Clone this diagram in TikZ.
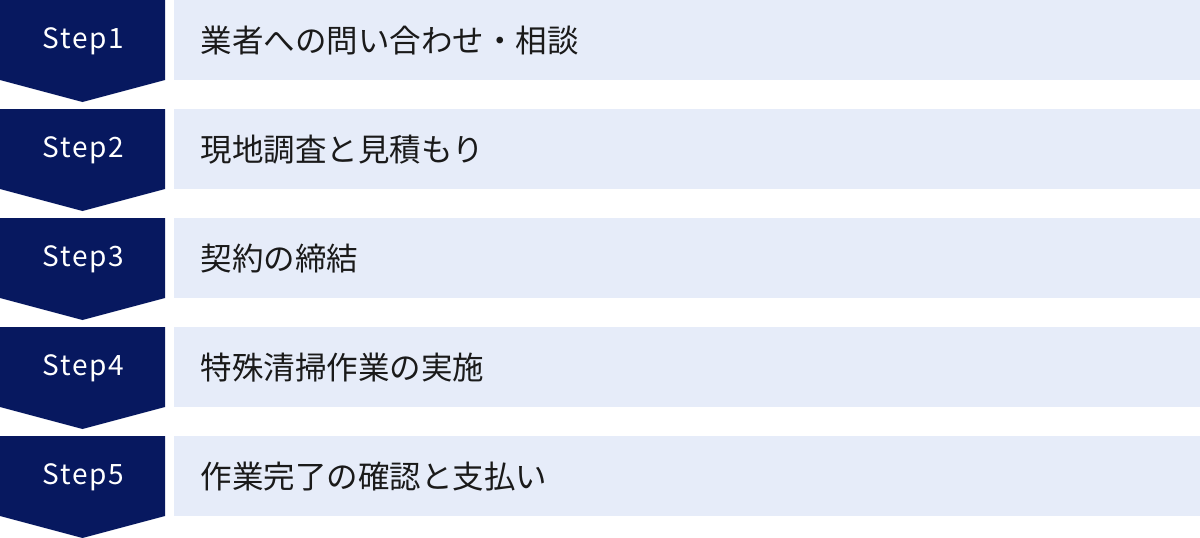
\documentclass[tikz,border=0pt]{standalone}
\usepackage{fontspec}
\setmainfont{Noto Sans CJK JP}
\newfontfamily\stepfont[LetterSpace=6]{Noto Sans CJK JP}
\definecolor{navy}{HTML}{07185F}
\definecolor{pale}{HTML}{E6ECF9}
\definecolor{ink}{HTML}{1A1A1A}
\tikzset{
  stepshape/.style={fill=navy, draw=none},
  steplabel/.style={text=white, font=\stepfont\fontsize{28}{30}\selectfont, inner sep=0pt},
  barbox/.style={fill=pale, draw=none, minimum width=1026pt, minimum height=80pt, inner sep=0pt, anchor=north west},
  bartext/.style={text=ink, font=\fontsize{31.5}{34}\selectfont, inner sep=0pt, anchor=west},
}
\begin{document}
\begin{tikzpicture}[x=1pt,y=-1pt]
\useasboundingbox (0,0) rectangle (1200,538);
\foreach \i/\lab in {0/業者への問い合わせ・相談, 1/現地調査と見積もり, 2/契約の締結, 3/特殊清掃作業の実施, 4/作業完了の確認と支払い}{
  \pgfmathsetmacro{\t}{109*\i}
  \pgfmathtruncatemacro{\n}{\i+1}
  \fill[stepshape] (0,\t) -- (165,\t) -- (165,\t+80) -- (82.5,\t+102) -- (0,\t+80) -- cycle;
  \node[steplabel] (s\n) at (83.5,\t+41) {Step\n};
  \node[barbox] (b\n) at (174,\t) {};
  \node[bartext] (t\n) at (200.5,\t+41) {\lab};
}
\end{tikzpicture}
\end{document}
